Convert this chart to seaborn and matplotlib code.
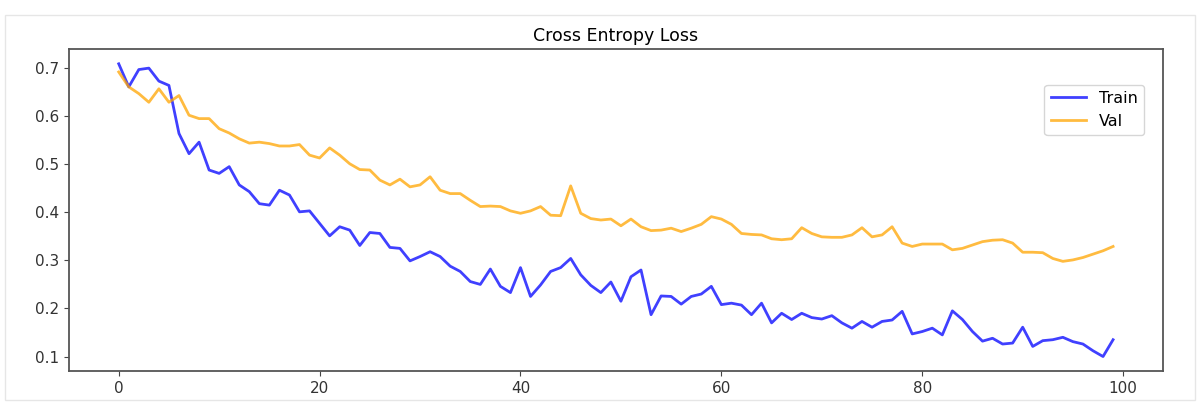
import numpy as np
import pandas as pd
import seaborn as sns
import matplotlib.pyplot as plt
from matplotlib.patches import Rectangle

# Loss per epoch
train_loss = [0.709, 0.661, 0.697, 0.700, 0.673, 0.664, 0.564, 0.522, 0.546, 0.488,
              0.481, 0.495, 0.457, 0.443, 0.418, 0.415, 0.446, 0.436, 0.401, 0.403,
              0.377, 0.351, 0.370, 0.363, 0.331, 0.358, 0.356, 0.327, 0.325, 0.299,
              0.308, 0.318, 0.308, 0.288, 0.277, 0.256, 0.250, 0.282, 0.246, 0.233,
              0.285, 0.225, 0.249, 0.277, 0.285, 0.304, 0.270, 0.248, 0.233, 0.255,
              0.215, 0.266, 0.280, 0.187, 0.226, 0.225, 0.209, 0.225, 0.230, 0.246,
              0.208, 0.211, 0.207, 0.187, 0.211, 0.170, 0.190, 0.177, 0.190, 0.181,
              0.178, 0.185, 0.170, 0.159, 0.173, 0.161, 0.173, 0.176, 0.194, 0.147,
              0.152, 0.159, 0.145, 0.195, 0.177, 0.152, 0.132, 0.138, 0.126, 0.128,
              0.161, 0.121, 0.133, 0.135, 0.140, 0.131, 0.126, 0.112, 0.100, 0.135]
val_loss = [0.692, 0.661, 0.647, 0.629, 0.657, 0.629, 0.643, 0.602, 0.595, 0.595,
            0.574, 0.565, 0.553, 0.544, 0.546, 0.543, 0.538, 0.538, 0.541, 0.519,
            0.513, 0.534, 0.519, 0.501, 0.489, 0.488, 0.467, 0.457, 0.469, 0.453,
            0.457, 0.474, 0.446, 0.439, 0.439, 0.425, 0.412, 0.413, 0.412, 0.403,
            0.398, 0.403, 0.412, 0.394, 0.393, 0.455, 0.398, 0.387, 0.384, 0.386,
            0.372, 0.386, 0.370, 0.362, 0.363, 0.367, 0.360, 0.367, 0.375, 0.391,
            0.386, 0.375, 0.356, 0.354, 0.353, 0.345, 0.343, 0.345, 0.368, 0.356,
            0.349, 0.348, 0.348, 0.353, 0.368, 0.349, 0.353, 0.370, 0.336, 0.329,
            0.334, 0.334, 0.334, 0.322, 0.325, 0.332, 0.339, 0.342, 0.343, 0.336,
            0.317, 0.317, 0.316, 0.304, 0.298, 0.301, 0.306, 0.313, 0.320, 0.329]
epochs = list(range(len(train_loss)))

df = pd.DataFrame({'epoch': epochs + epochs,
                   'loss': train_loss + val_loss,
                   'split': ['Train'] * len(epochs) + ['Val'] * len(epochs)})

fig = plt.figure(figsize=(12, 4.03), dpi=100)
ax = fig.add_axes([0.0575, 0.079, 0.9115, 0.799])

sns.lineplot(data=df, x='epoch', y='loss', hue='split',
             palette={'Train': 'blue', 'Val': 'orange'},
             alpha=0.75, linewidth=2, ax=ax)

ax.set_title('Cross Entropy Loss', fontsize=12.5)
ax.set_xlabel('')
ax.set_ylabel('')
ax.set_xticks([0, 20, 40, 60, 80, 100])
ax.set_yticks([0.1, 0.2, 0.3, 0.4, 0.5, 0.6, 0.7])
ax.tick_params(labelsize=11, color='#444444', labelcolor='#333333')
for s in ax.spines.values():
    s.set_color('#555555')
    s.set_linewidth(1.3)

leg = ax.legend(loc='upper right', bbox_to_anchor=(0.99, 0.915), fontsize=11.5,
                handlelength=2.2)
for line in leg.get_lines():
    line.set_linewidth(2)

# faint screenshot border
fig.patches.append(Rectangle((0.004, 0.008), 0.992, 0.955, transform=fig.transFigure,
                             fill=False, edgecolor='#e6e6e6', linewidth=1))

fig.savefig('out.png', dpi=100)
